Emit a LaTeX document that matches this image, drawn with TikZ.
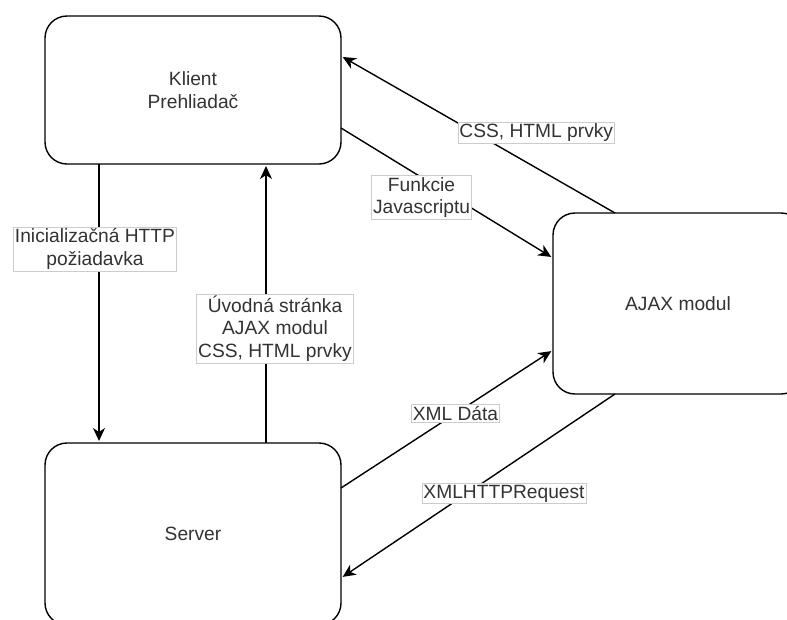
\documentclass[tikz,border=0pt]{standalone}
\usepackage{fontspec}
\setmainfont{Liberation Sans}
\usetikzlibrary{arrows.meta,positioning}

\begin{document}
\begin{tikzpicture}[
    x = 1pt, y = -1pt, % pixel grid
    > = {Stealth[length=13pt, width=12pt, inset=4pt]}, % arrow head style
    shorten > = 2pt, % don't touch arrow head to node
    line width = 1.4pt, % line style
    font = \fontsize{19.2}{22.6}\selectfont,
    text = black!80
    ]

    \tikzset{
    block/.style = {draw = black, fill = white, rounded corners = 22pt,
        minimum width = 296pt, minimum height = 148pt, align = center, outer sep = 0pt},
    lbl/.style = {draw = gray!40, fill = white, line width = 0.8pt,
        inner sep = 1.5pt, align = center}
    }
    \useasboundingbox (0,0) rectangle (787,619);

    \node[block] (klient) at (193,90) {Klient\\Prehliadač};
    \node[block, minimum height = 182pt] (server) [below = 279pt of klient] {Server};
    \node[block, minimum width = 250pt, minimum height = 181pt] (ajax) at (678,303.5) {AJAX modul};

    \draw[->] ([xshift=-94pt]klient.south) -- node[lbl, pos=0.305, xshift=-4pt] {Inicializačná HTTP\\požiadavka} ([xshift=-94pt]server.north);
    \draw[->] ([xshift=73pt]server.north) -- node[lbl, pos=0.41, xshift=9pt] {Úvodná stránka\\AJAX modul\\CSS, HTML prvky} ([xshift=73pt]klient.south);
    \draw[->] ([xshift=-63pt]ajax.north) -- node[lbl, pos=0.51, xshift=61pt] {CSS, HTML prvky} ([yshift=34pt]klient.east);
    \draw[->] ([yshift=-38pt]klient.east) -- node[lbl, pos=0.38, yshift=-20pt] {Funkcie\\Javascriptu} ([yshift=45.5pt]ajax.west);
    \draw[->] ([yshift=46pt]server.east) -- node[lbl, pos=0.54] {XML Dáta} ([yshift=-46.5pt]ajax.west);
    \draw[->] ([xshift=-63pt]ajax.south) -- node[lbl, pos=0.405, yshift=-25pt] {XMLHTTPRequest} ([yshift=-44pt]server.east);
\end{tikzpicture}
\end{document}
